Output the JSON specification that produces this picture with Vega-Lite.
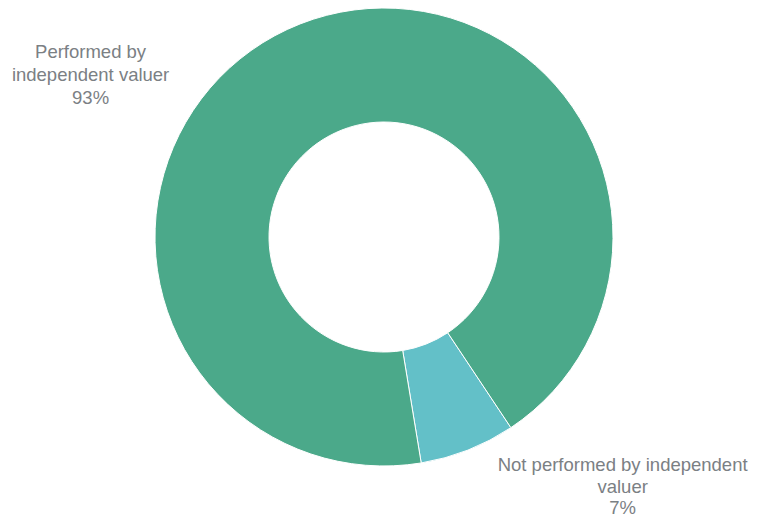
{
  "$schema": "https://vega.github.io/schema/vega-lite/v6.json",
  "autosize": {"type": "none"},
  "width": 750,
  "height": 474,
  "padding": {"left": 9, "top": 0, "right": 0, "bottom": 47},
  "background": "white",
  "view": {"stroke": null},
  "data": {
    "values": [
      {"category": "Not performed by independent valuer", "value": 6.75, "label": "Not performed by independent\nvaluer\n7%"},
      {"category": "Performed by independent valuer", "value": 93.25, "label": "Performed by\nindependent valuer\n93%"}
    ]
  },
  "encoding": {
    "theta": {"field": "value", "type": "quantitative", "stack": true, "scale": {"range": [2.5543, 8.8375]}},
    "order": {"field": "value", "type": "quantitative", "sort": "ascending"}
  },
  "layer": [
    {
      "mark": {"type": "arc", "outerRadius": 229, "innerRadius": 115, "stroke": "white", "strokeWidth": 1},
      "encoding": {
        "color": {
          "field": "category",
          "type": "nominal",
          "scale": {"domain": ["Performed by independent valuer", "Not performed by independent valuer"], "range": ["#4ba98a", "#63c0c8"]},
          "legend": null
        }
      }
    },
    {
      "mark": {"type": "text", "radius": 229, "dx": -209.5, "dy": 28, "align": "center", "baseline": "middle", "lineBreak": "\n", "lineHeight": 23, "fontSize": 18.5, "font": "Liberation Sans", "fill": "#7b8084"},
      "encoding": {
        "text": {"condition": {"test": "datum.value > 50", "field": "label"}, "value": ""}
      }
    },
    {
      "mark": {"type": "text", "radius": 229, "dx": 154.7, "dy": 15, "align": "center", "baseline": "middle", "lineBreak": "\n", "lineHeight": 21.5, "fontSize": 18.5, "font": "Liberation Sans", "fill": "#7b8084"},
      "encoding": {
        "text": {"condition": {"test": "datum.value < 50", "field": "label"}, "value": ""}
      }
    }
  ]
}
